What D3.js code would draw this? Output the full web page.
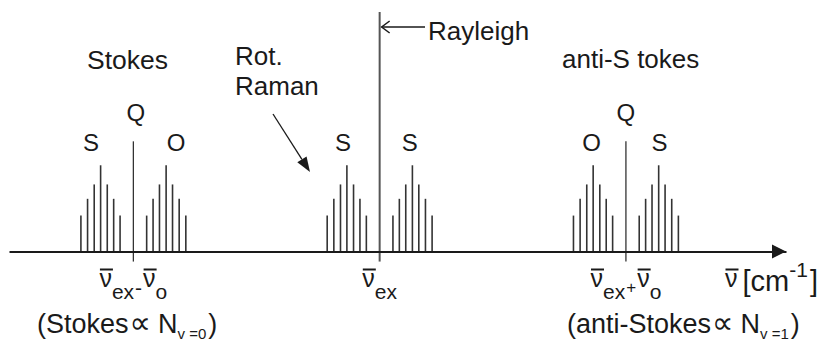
<!DOCTYPE html>
<html>
<head>
<meta charset="utf-8">
<script src="https://cdn.jsdelivr.net/npm/d3@7"></script>
<style>
  body { margin: 0; background: #fff; }
  text { font-family: "Liberation Sans", Arial, sans-serif; fill: #1a1a1a; }
</style>
</head>
<body>
<svg id="chart" width="825" height="341"></svg>
<script>
// wavenumber in arbitrary units, Rayleigh (excitation) line at 0
const bandCenters = [-1000, 0, 1000];          // Stokes Q, Rayleigh, anti-Stokes Q
const bandHeight = [4.6, 10, 4.6];              // relative intensity of the centre lines
const rotShift = [54, 80, 106, 133, 159, 186, 213];   // rotational line shifts from band centre
const rotIntensity = [1.5, 2.2, 2.8, 3.6, 2.8, 2.2, 1.5];
const branchNames = ["S", "Q", "O", "S", "S", "O", "Q", "S"];
const branchPos = [-1172, -990, -827, -149, 122, 861, 1000, 1136];
const branchRaise = [4.2, 5.45, 4.2, 4.2, 4.2, 4.2, 5.45, 4.2];

const svg = d3.select("#chart");

var x = d3.scaleLinear().domain([-1505, 1650]).range([9, 786]);
var y = d3.scaleLinear().domain([0, 10]).range([251.5, 12]);

// rotational sticks on both sides of each band
const sticks = [];
bandCenters.forEach(function(c) {
    [-1, 1].forEach(function(side) {
        rotShift.forEach(function(s, i) {
            sticks.push({ x: c + side * s, v: rotIntensity[i] });
        });
    });
});

svg.append("g").selectAll("line")
    .data(sticks)
    .enter()
    .append("line")
    .attr("x1", d => x(d.x)).attr("x2", d => x(d.x))
    .attr("y1", y(0)).attr("y2", d => y(d.v))
    .attr("stroke", "#333")
    .attr("stroke-width", 1.6);

// Q lines and the Rayleigh line, they poke a bit below the axis
svg.append("g").selectAll("line")
    .data(bandCenters)
    .enter()
    .append("line")
    .attr("x1", d => x(d)).attr("x2", d => x(d))
    .attr("y1", y(-0.42)).attr("y2", (d, i) => y(bandHeight[i]))
    .attr("stroke", (d, i) => i === 1 ? "#555" : "#333")
    .attr("stroke-width", (d, i) => i === 1 ? 2 : 1.3);

// axis line with arrow
svg.append("g")
    .attr("transform", "translate(0," + y(0) + ")")
    .call(d3.axisBottom(x).tickValues([]).tickSizeOuter(0))
    .call(g => g.select(".domain").attr("stroke", "#1a1a1a").attr("stroke-width", 2));

const xe = x.range()[1];
svg.append("path")
    .attr("d", `M${xe},${y(0)}L${xe - 14},${y(0) - 7}L${xe - 14},${y(0) + 7}Z`)
    .attr("fill", "#1a1a1a");

// branch letters
svg.append("g").selectAll("text")
    .data(branchNames)
    .enter()
    .append("text")
    .attr("x", (d, i) => x(branchPos[i]))
    .attr("y", (d, i) => y(branchRaise[i]))
    .attr("text-anchor", "middle")
    .style("font-size", "24px")
    .text(d => d);

// titles
function label(t, px, py, size) {
    return svg.append("text").attr("x", px).attr("y", py).style("font-size", size + "px").text(t);
}
label("Stokes", 87, 69, 26.5);
label("anti-S tokes", 562, 68, 26);
label("Rot.", 235, 65, 26);
label("Raman", 235, 95, 26);
label("Rayleigh", 428, 40, 26);

// Rayleigh pointer
const rx = x(0) + 2, ry = 27;
svg.append("line").attr("x1", 425).attr("x2", rx).attr("y1", ry).attr("y2", ry)
    .attr("stroke", "#1a1a1a").attr("stroke-width", 1.3);
svg.append("path").attr("d", `M${rx + 8},${ry - 6}L${rx},${ry}L${rx + 8},${ry + 6}`)
    .attr("fill", "none").attr("stroke", "#1a1a1a").attr("stroke-width", 1.5);

// Rot. Raman pointer
const a0 = [273, 114], a1 = [310, 172];
const ang = Math.atan2(a1[1] - a0[1], a1[0] - a0[0]);
const hl = 15, hw = 5.5;
const bx = a1[0] - hl * Math.cos(ang), by = a1[1] - hl * Math.sin(ang);
svg.append("line").attr("x1", a0[0]).attr("y1", a0[1]).attr("x2", bx).attr("y2", by)
    .attr("stroke", "#1a1a1a").attr("stroke-width", 1.3);
svg.append("path")
    .attr("d", `M${a1[0]},${a1[1]}L${bx - hw * Math.sin(ang)},${by + hw * Math.cos(ang)}L${bx + hw * Math.sin(ang)},${by - hw * Math.cos(ang)}Z`)
    .attr("fill", "#1a1a1a");

// rich text: runs of text with their own size / baseline shift, optional overbar
function rich(x0, y0, segs, anchor) {
    const g = svg.append("g");
    let cx = 0;
    segs.forEach(function(s) {
        cx += s.pre || 0;
        const t = g.append("text").attr("x", cx).attr("y", s.dy || 0)
            .style("font-size", s.size + "px").text(s.t);
        if (s.font) t.style("font-family", s.font);
        const w = t.node().getComputedTextLength();
        if (s.bar) {
            g.append("line").attr("x1", cx + 0.5).attr("x2", cx + w + 1)
                .attr("y1", -17.5).attr("y2", -17.5)
                .attr("stroke", "#1a1a1a").attr("stroke-width", 2);
        }
        cx += w;
    });
    const off = anchor === "middle" ? -cx / 2 : 0;
    g.attr("transform", "translate(" + (x0 + off) + "," + y0 + ")");
}

const nu = "\u03bd";
rich(x(bandCenters[0]), 287, [
    { t: nu, size: 25, bar: true }, { t: "ex", size: 21, dy: 12 },
    { t: "-", size: 21, dy: 8, pre: 1 }, { t: nu, size: 25, bar: true, pre: 1 }, { t: "o", size: 21, dy: 12 }
], "middle");
rich(x(bandCenters[1]), 287, [
    { t: nu, size: 25, bar: true }, { t: "ex", size: 21, dy: 12 }
], "middle");
rich(x(bandCenters[2]), 287, [
    { t: nu, size: 25, bar: true }, { t: "ex", size: 21, dy: 12 },
    { t: "+", size: 17, dy: 6, pre: 1 }, { t: nu, size: 25, bar: true, pre: 1 }, { t: "o", size: 21, dy: 12 }
], "middle");

// axis unit
rich(725, 287, [
    { t: nu, size: 25, bar: true }, { t: "[cm", size: 29, dy: 4, pre: 5 },
    { t: "-1", size: 21, dy: -10 }, { t: "]", size: 29, dy: 4, pre: 2 }
], "start");

// population notes
const prop = "DejaVu Sans";
rich(37, 333, [
    { t: "(Stokes", size: 27 }, { t: "\u221d", size: 30, pre: 1, dy: 0, font: prop }, { t: "N", size: 27, pre: 7 },
    { t: "v =0", size: 15, dy: 6 }, { t: ")", size: 27, pre: 2 }
], "start");
rich(567, 333, [
    { t: "(anti-Stokes", size: 27 }, { t: "\u221d", size: 30, pre: 1, dy: 0, font: prop }, { t: "N", size: 27, pre: 7 },
    { t: "v =1", size: 15, dy: 6 }, { t: ")", size: 27, pre: 2 }
], "start");
</script>
</body>
</html>
